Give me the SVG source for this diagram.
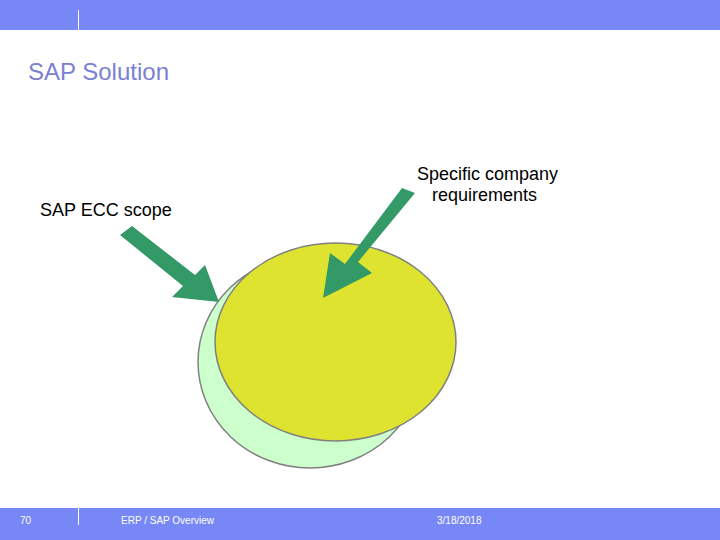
<svg xmlns="http://www.w3.org/2000/svg" width="720" height="540" viewBox="0 0 720 540">
<style>
.bar{fill:#7788f6}
.sep{stroke:#ffffff;stroke-width:1}
.ft{font-family:"Liberation Sans",Arial,sans-serif;font-size:10px;fill:#ffffff}
.lbl{font-family:"Liberation Sans",Arial,sans-serif;font-size:18px;fill:#000000}
.title{font-family:"Liberation Sans",Arial,sans-serif;font-size:24px;fill:#7a80d2}
.arrow{fill:#339966}
.ell{stroke:#808080;stroke-width:1.5}
</style>
<rect width="720" height="540" fill="#ffffff"/>
<rect class="bar" x="0" y="0" width="720" height="30"/>
<line class="sep" x1="78.5" y1="10" x2="78.5" y2="30"/>
<rect class="bar" x="0" y="508" width="720" height="32"/>
<line class="sep" x1="78.5" y1="508" x2="78.5" y2="525"/>
<text class="title" x="28" y="80">SAP Solution</text>
<text class="ft" x="20" y="524">70</text>
<text class="ft" x="121" y="524">ERP / SAP Overview</text>
<text class="ft" x="437" y="524">3/18/2018</text>
<g id="ecc-scope">
<ellipse class="ell" cx="310" cy="362" rx="112" ry="106" fill="#ccffcc"/>
</g>
<g id="company-req">
<ellipse class="ell" cx="335.5" cy="342" rx="120.5" ry="99" fill="#dde32f"/>
</g>
<g id="label-ecc">
<text class="lbl" x="40" y="216">SAP ECC scope</text>
</g>
<g id="label-req">
<text class="lbl" x="417" y="180">Specific company</text>
<text class="lbl" x="432" y="201">requirements</text>
</g>
<g id="connectors">
<polygon class="arrow" points="120,235 132,226 195,275 205,265 219,302 172,297 183,286"/>
<polygon class="arrow" points="402,188 415,193 358,262 372,273 323,298 330,253 345,264"/>
</g>
</svg>
